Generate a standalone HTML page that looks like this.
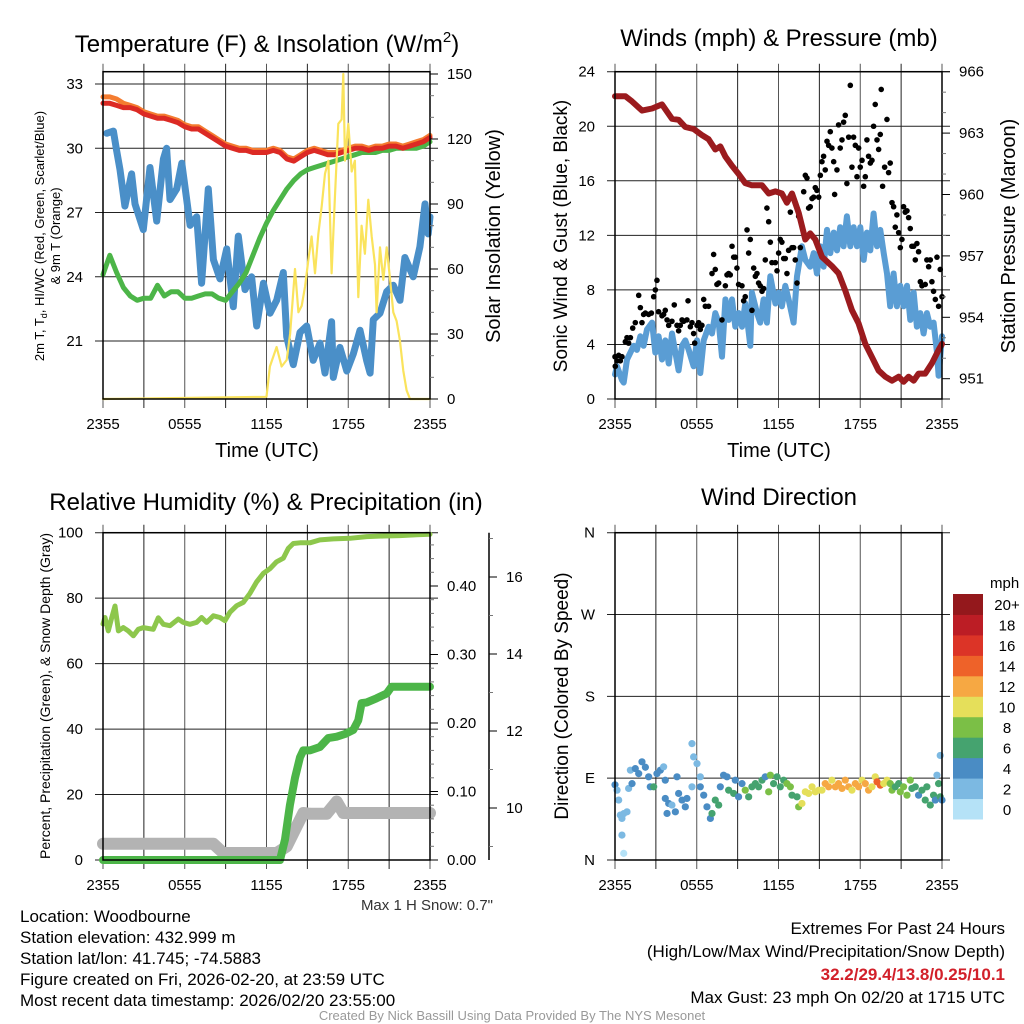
<!DOCTYPE html>
<html><head><meta charset="utf-8"><style>
html,body{margin:0;padding:0;background:#fff;}
svg{display:block;font-family:"Liberation Sans",Arial,sans-serif;}
</style></head><body>
<svg id="chart" width="1024" height="1024" viewBox="0 0 1024 1024" xmlns="http://www.w3.org/2000/svg">
<rect x="0" y="0" width="1024" height="1024" fill="#fff"/>
<g id="layer"></g>
<text x="267" y="52" font-size="24" text-anchor="middle">Temperature (F) &amp; Insolation (W/m<tspan font-size="15" dy="-10">2</tspan><tspan dy="10">)</tspan></text>
<text x="779" y="46" font-size="24" text-anchor="middle">Winds (mph) &amp; Pressure (mb)</text>
<text x="266" y="510" font-size="24" text-anchor="middle">Relative Humidity (%) &amp; Precipitation (in)</text>
<text x="779" y="505" font-size="24" text-anchor="middle">Wind Direction</text>
<text x="267" y="457" font-size="20" text-anchor="middle">Time (UTC)</text>
<text x="779" y="457" font-size="20" text-anchor="middle">Time (UTC)</text>
<text transform="translate(44,236) rotate(-90)" font-size="13" text-anchor="middle">2m T, T<tspan font-size="9" dy="3">d</tspan><tspan dy="-3">, HI/WC (Red, Green, Scarlet/Blue)</tspan></text>
<text transform="translate(60,236) rotate(-90)" font-size="13" text-anchor="middle">&amp; 9m T (Orange)</text>
<text transform="translate(500,236) rotate(-90)" font-size="20" text-anchor="middle">Solar Insolation (Yellow)</text>
<text transform="translate(567,236) rotate(-90)" font-size="19" text-anchor="middle">Sonic Wind &amp; Gust (Blue, Black)</text>
<text transform="translate(1015,236) rotate(-90)" font-size="20" text-anchor="middle">Station Pressure (Maroon)</text>
<text transform="translate(50,696) rotate(-90)" font-size="14" text-anchor="middle">Percent, Precipitation (Green), &amp; Snow Depth (Gray)</text>
<text transform="translate(568,696) rotate(-90)" font-size="19" text-anchor="middle">Direction (Colored By Speed)</text>
<text x="990" y="588" font-size="15">mph</text>
<text x="493" y="910" font-size="15" text-anchor="end" fill="#333">Max 1 H Snow: 0.7"</text>
<g font-size="17">
<text x="20" y="922">Location: Woodbourne</text>
<text x="20" y="943">Station elevation: 432.999 m</text>
<text x="20" y="964">Station lat/lon: 41.745; -74.5883</text>
<text x="20" y="985">Figure created on Fri, 2026-02-20, at 23:59 UTC</text>
<text x="20" y="1006">Most recent data timestamp: 2026/02/20 23:55:00</text>
</g>
<g font-size="17" text-anchor="end">
<text x="1005" y="934">Extremes For Past 24 Hours</text>
<text x="1005" y="957">(High/Low/Max Wind/Precipitation/Snow Depth)</text>
<text x="1005" y="980" fill="#d2202a" font-weight="bold">32.2/29.4/13.8/0.25/10.1</text>
<text x="1005" y="1003">Max Gust: 23 mph On 02/20 at 1715 UTC</text>
</g>
<text x="512" y="1020" font-size="13" text-anchor="middle" fill="#999">Created By Nick Bassill Using Data Provided By The NYS Mesonet</text>
</svg>
<script>
const xTickLabels = ["2355","0555","1155","1755","2355"];
const halfHours = Array.from({length:49},(_,i)=>i*0.5);
const tempRed = [32.1,32.1,32.0,31.9,31.9,31.8,31.6,31.5,31.4,31.4,31.3,31.2,31.0,30.9,30.9,30.7,30.5,30.3,30.1,30.0,29.9,29.9,29.8,29.8,29.8,29.9,29.8,29.5,29.4,29.6,29.8,29.9,29.8,29.7,29.7,29.8,29.9,30.0,30.0,29.9,30.0,30.0,30.1,30.1,30.0,30.1,30.2,30.3,30.5];
const temp9mOrange = [32.4,32.4,32.3,32.1,32.0,31.9,31.7,31.6,31.5,31.5,31.4,31.3,31.1,31.0,31.0,30.8,30.6,30.4,30.2,30.1,30.0,30.0,29.9,29.9,29.9,30.0,29.9,29.6,29.5,29.7,29.9,30.0,29.9,29.8,29.8,29.9,30.0,30.1,30.1,30.0,30.1,30.1,30.2,30.2,30.1,30.2,30.3,30.4,30.6];
const dewGreen = [24.1,25.0,24.2,23.5,23.1,22.9,23.0,23.0,23.6,23.1,23.3,23.3,23.0,23.0,23.1,23.2,23.2,23.0,22.9,23.3,23.7,24.2,25.0,25.8,26.5,27.1,27.6,28.1,28.5,28.8,29.0,29.1,29.2,29.3,29.4,29.5,29.6,29.7,29.8,29.8,29.8,29.9,29.9,30.0,30.0,30.0,30.0,30.1,30.3];
const chillHours = [0.27,0.76,1.00,1.25,1.61,2.10,2.35,2.96,3.45,3.94,4.43,4.67,4.92,5.41,5.78,6.14,6.39,6.88,7.24,7.73,8.10,8.59,9.08,9.56,9.93,10.42,10.91,11.28,11.77,12.26,12.75,13.23,13.48,13.97,14.46,14.95,15.43,15.93,16.29,16.78,16.90,17.39,17.89,18.37,18.86,19.35,19.60,19.84,20.33,20.82,21.31,21.80,22.16,22.77,23.26,23.63,23.87,24.0];
const chillBlue = [30.7,30.8,29.9,29.0,27.3,28.8,27.4,26.2,29.1,26.6,29.5,30.0,27.6,28.1,29.3,27.6,26.4,26.8,23.7,28.1,24.8,23.9,25.3,22.6,25.9,23.4,24.0,21.7,23.7,22.3,22.9,24.2,21.2,19.9,21.4,21.7,20.1,20.9,19.5,21.9,19.3,20.7,19.6,20.4,21.5,20.1,19.5,22.0,22.3,23.3,23.6,22.9,24.9,24.0,25.4,27.4,26.0,26.8];
const solarHours = [0,12.0,12.25,12.74,13.11,13.48,13.73,14.09,14.34,14.58,14.83,15.07,15.31,15.56,15.80,16.05,16.29,16.54,16.78,17.02,17.27,17.51,17.64,17.76,18.00,18.25,18.49,18.74,18.98,19.22,19.47,19.72,19.96,20.08,20.33,20.57,20.82,21.06,21.31,21.55,21.79,22.04,22.28,22.53,24.0];
const solarYellow = [0,1,15,24,15,18,30,60,40,43,52,64,75,58,76,89,104,110,58,93,127,129,150,110,127,105,110,47,80,67,92,75,62,40,70,55,70,56,40,36,27,13,4,0,0];

const windHours = [0,0.15,0.51,0.64,0.88,1.13,1.37,1.61,1.86,2.10,2.35,2.72,2.96,3.20,3.45,3.69,3.94,4.18,4.43,4.67,4.92,5.16,5.41,5.77,6.02,6.26,6.51,6.87,7.12,7.36,7.61,7.85,8.10,8.34,8.59,8.83,9.07,9.32,9.56,9.93,10.05,10.42,10.66,10.91,11.15,11.40,11.77,12.01,12.25,12.50,12.74,13.11,13.36,13.72,13.97,14.33,14.58,14.82,15.07,15.31,15.56,15.80,16.05,16.29,16.53,16.78,17.02,17.27,17.51,17.76,18.00,18.25,18.49,18.74,18.98,19.23,19.47,19.72,19.96,20.20,20.45,20.69,20.94,21.18,21.43,21.67,21.92,22.16,22.41,22.65,22.89,23.14,23.38,23.63,23.75,24.0];
const windBlue = [1.8,2.4,1.4,1.2,2.9,3.4,3.9,3.6,4.6,3.9,5.1,5.6,3.4,4.6,2.9,4.3,2.6,4.8,3.4,2.1,3.9,4.3,3.6,2.4,4.3,1.9,4.3,5.3,4.8,6.3,5.6,3.1,7.3,5.8,7.3,5.3,6.3,5.3,7.0,3.9,7.8,6.3,5.6,7.3,5.6,9.0,7.0,7.8,6.8,8.3,7.3,5.6,9.0,11.2,10.2,9.7,10.7,9.2,11.2,9.7,12.4,10.7,12.2,10.9,12.6,11.2,13.4,11.2,12.6,11.2,12.6,10.2,12.2,10.9,13.6,11.2,12.4,10.7,9.2,6.8,9.2,6.8,8.3,6.8,8.3,5.8,7.8,5.3,6.3,4.8,6.3,5.3,5.6,3.4,1.7,4.6];
const gustHours = [0.0,0.02,0.15,0.27,0.39,0.51,0.76,0.88,1.0,1.13,1.30,1.49,1.74,1.86,1.98,2.10,2.23,2.47,2.67,2.84,2.96,3.08,3.20,3.45,3.57,3.69,3.82,3.94,4.18,4.35,4.55,4.67,4.79,4.92,5.04,5.28,5.36,5.53,5.65,5.77,5.85,6.02,6.14,6.26,6.38,6.51,6.63,6.87,7.12,7.24,7.36,7.48,7.61,7.85,8.10,8.22,8.34,8.46,8.59,8.71,8.83,8.95,9.07,9.32,9.44,9.56,9.69,9.81,9.93,10.05,10.18,10.30,10.42,10.54,10.66,10.79,10.91,11.03,11.15,11.28,11.40,11.52,11.77,11.89,12.01,12.13,12.25,12.38,12.50,12.62,12.74,12.87,12.99,13.11,13.23,13.36,13.48,13.60,13.85,13.97,14.09,14.21,14.33,14.46,14.58,14.70,14.82,14.95,15.07,15.19,15.31,15.43,15.56,15.68,15.80,15.92,16.05,16.12,16.29,16.41,16.53,16.66,16.78,16.90,17.02,17.15,17.27,17.39,17.51,17.64,17.76,17.88,18.00,18.13,18.25,18.37,18.49,18.61,18.74,18.86,18.98,19.10,19.23,19.35,19.47,19.54,19.64,19.79,19.96,20.08,20.20,20.33,20.45,20.57,20.69,20.82,20.94,21.06,21.18,21.30,21.43,21.55,21.67,21.79,21.92,22.04,22.16,22.28,22.41,22.53,22.77,22.89,23.02,23.14,23.26,23.38,23.51,23.63,23.75,23.87,24.0];
const gustBlack = [3.1,2.4,2.8,3.2,2.8,3.1,4.2,4.5,4.1,4.5,5.2,5.6,7.6,6.7,5.6,6.2,6.3,6.2,6.3,7.5,8.0,8.7,6.4,6.1,6.2,6.5,5.8,5.4,5.7,6.9,5.4,5.0,5.4,5.8,5.7,5.8,7.2,5.3,5.6,4.8,4.1,5.4,5.6,5.1,5.4,7.3,6.8,6.8,9.2,10.6,9.5,8.4,8.5,5.8,8.3,9.1,9.2,9.1,11.2,10.4,10.4,9.6,8.4,8.3,7.2,7.5,12.4,10.7,11.7,6.5,9.6,9.0,9.2,8.5,8.3,7.9,8.1,10.2,14.0,13.0,11.5,10.0,10.0,9.4,10.7,11.7,11.5,10.3,10.3,9.2,10.9,13.7,11.1,11.1,10.2,8.5,13.4,11.1,15.2,16.4,16.2,14.0,14.1,14.7,14.8,15.5,15.3,14.8,16.4,17.4,17.8,16.8,18.9,18.6,19.6,18.4,17.4,15.0,16.8,20.1,18.4,19.0,20.3,20.8,15.8,19.2,23.0,17.0,19.2,18.6,16.3,18.4,17.0,17.5,15.6,16.3,19.0,17.8,17.3,17.5,20.0,21.6,19.0,18.3,19.4,22.7,15.6,17.0,20.5,16.6,17.3,14.4,14.1,12.6,13.5,12.2,11.1,11.7,14.1,13.7,13.8,13.3,12.5,11.2,11.2,10.2,11.4,10.8,8.6,8.3,8.4,10.2,9.7,10.2,8.6,7.9,7.3,10.4,6.8,9.5,7.5];
const pressHours = [0,0.76,1.25,1.98,2.72,3.45,4.18,4.67,5.16,5.77,6.38,6.87,7.36,7.73,8.10,8.59,9.07,9.56,10.05,10.79,11.28,11.77,12.25,12.62,12.99,13.48,13.97,14.33,14.70,15.19,15.92,16.41,16.90,17.39,17.88,18.37,18.86,19.35,19.84,20.33,20.82,21.18,21.55,21.92,22.28,22.77,23.26,23.75,24.0];
const pressMaroon = [964.8,964.8,964.55,964.1,964.2,964.4,963.7,963.65,963.3,963.2,962.9,962.7,962.2,962.35,961.85,961.4,961.0,960.55,960.45,960.45,960.05,960.15,960.05,959.6,960.05,959.1,957.8,958.1,957.8,956.95,956.5,956.15,955.3,954.35,953.7,952.7,952.05,951.4,951.1,950.9,951.1,950.85,951.1,950.9,951.25,951.25,951.75,952.4,952.7];

const rhHours = [0,0.15,0.39,0.64,0.88,1.13,1.49,1.86,2.23,2.59,2.96,3.69,4.06,4.43,4.92,5.53,5.89,6.38,6.87,7.24,7.61,8.10,8.59,8.95,9.32,9.81,10.30,10.79,11.28,11.77,12.25,12.74,13.23,13.60,13.97,14.46,15.19,15.92,16.90,18.13,19.35,20.57,21.79,23.02,24.0];
const rhValues = [72.1,74.1,70,74,77.6,70,71,70,68.5,70.5,71,70.5,74,72,71.6,73.6,72.6,72,72.6,74.1,72.6,74.6,74.1,73.1,75.7,77.7,78.7,81.5,85,87.6,89,91.1,92.2,95.2,96.7,96.9,96.9,97.8,98.1,98.3,98.8,99,99.1,99.4,99.5];
const precipHours = [0,12.99,13.36,13.72,14.09,14.46,14.70,15.19,15.92,16.53,17.15,17.76,18.37,18.74,18.98,19.35,20.08,20.82,21.18,21.79,23.02,24.0];
const precipValues = [0,0,0.03,0.08,0.12,0.15,0.16,0.16,0.165,0.178,0.18,0.184,0.19,0.204,0.229,0.23,0.236,0.243,0.253,0.253,0.253,0.253];
const snowHours = [0,8.10,8.83,12.74,13.48,14.21,14.70,15.19,16.41,17.15,17.64,24.0];
const snowDepth = [9.07,9.07,8.83,8.83,9.0,9.52,9.87,9.85,9.85,10.17,9.87,9.87];

const dirHours = [0,0.15,0.27,0.39,0.51,0.64,0.88,0.51,0.64,1.0,1.13,1.25,1.49,1.74,1.98,2.23,2.47,2.59,2.84,3.08,3.33,3.57,3.69,3.69,3.94,3.82,4.18,4.43,4.55,4.67,4.92,5.16,5.28,5.65,5.65,5.77,6.02,6.26,6.26,6.51,6.75,7.00,7.12,7.36,7.61,7.73,7.97,8.22,8.34,8.71,8.83,9.07,9.32,9.56,9.81,10.05,10.30,10.54,10.79,11.03,11.28,11.40,11.64,11.89,12.13,12.38,12.62,12.87,12.99,13.36,13.48,13.72,13.97,14.21,14.46,14.70,14.95,15.19,15.43,15.68,15.92,16.17,16.41,16.66,16.90,17.15,17.39,17.64,17.88,18.13,18.37,18.61,18.86,19.10,19.23,19.47,19.72,19.96,20.20,20.33,20.57,20.82,20.94,21.18,21.43,21.67,21.79,22.04,22.28,22.53,22.77,22.89,23.14,23.38,23.51,23.63,23.75,23.87,24.0,23.87];
const dirDegrees = [82.7,76.8,65.9,49.4,45.7,51,53,27.4,7.3,78.7,98.8,84,100.6,95,108,102,91.5,80.5,80.5,95,98.8,102.5,87.8,67.7,62.2,51.2,60.4,53,91.5,73.2,65.9,58.5,67.7,80.5,128,113.4,106,91.5,80.5,71.3,58.5,45.7,51.2,65.9,60.4,80.5,93.3,91.5,76.8,73.2,87.8,69.5,84,76.8,69.5,80.5,84,80.5,87.8,91.5,75,93.3,84,91.5,80.5,87.8,84,80.5,71.3,69.5,58.5,62.2,75,73.2,80.5,75,76.8,76.8,84,80.5,87.8,80.5,84,78.7,87.8,80.5,76.8,84,80.5,87.8,84,76.8,80.5,91.5,86,82.3,84,87.8,84,76.8,80.5,84,75,80.5,71.3,87.8,78.7,80.5,71.3,76.8,65.9,80.5,60.4,71.3,65.9,93.3,84,69.5,65.9,115];
const dirSpeeds = [3,2,1,2,2,2,2,2,0,2,2,4,4,4,4,4,4,4,6,4,4,2,4,4,4,4,2,4,4,4,4,4,4,2,2,2,2,2,4,4,4,4,6,6,6,4,4,4,6,6,4,4,4,8,6,6,6,6,6,4,8,8,6,6,6,6,8,8,6,6,8,10,10,10,10,10,10,10,12,12,10,12,12,12,12,12,10,12,12,10,12,12,10,10,14,14,10,10,8,8,6,6,8,8,8,8,6,6,4,6,6,6,6,6,4,2,6,6,4,2];
const colorbarLabels = ["0","2","4","6","8","10","12","14","16","18","20+"];
const colorbarColors = ["#b5e2f7","#7cb9e2","#4a8cc4","#45a36f","#7bbf46","#e5df5a","#f6a843","#ee6229","#dc3427","#bc1d25","#94181c"];

const NS="http://www.w3.org/2000/svg";
const layer=document.getElementById('layer');
function el(tag,attrs,parent){const e=document.createElementNS(NS,tag);for(const k in attrs)e.setAttribute(k,attrs[k]);(parent||layer).appendChild(e);return e;}
function linScale(d0,d1,r0,r1){return v=>r0+(v-d0)*(r1-r0)/(d1-d0);}
function pathD(xs,ys,xf,yf){return xs.map((h,i)=>(i?'L':'M')+xf(h).toFixed(1)+','+yf(ys[i]).toFixed(1)).join('');}

const panels=[
 {L:103,R:430,T:71.7,B:399,name:'temp'},
 {L:615,R:942,T:71.7,B:399,name:'winds'},
 {L:103,R:430,T:532.7,B:860,name:'humidity'},
 {L:615,R:942,T:532.7,B:860,name:'direction'}
];
panels.forEach(p=>{p.x=linScale(0,24,p.L,p.R);});
const P1=panels[0],P2=panels[1],P3=panels[2],P4=panels[3];
const y1L=linScale(33,21,84,341), y1R=linScale(0,150,399,74);
const y2L=linScale(0,24,399,71.7), y2R=linScale(951,966,378.7,71.7);
const y3L=linScale(0,100,860,532.7), y3R=linScale(0,0.4,860,586), y3S=linScale(10,16,808,577);
const y4=linScale(0,360,860,532.7);

function grid(p,yvals,yf,labels){
  const g=el('g',{});
  
  
  for(let h=0;h<=24;h+=3){
    const x=p.x(h);
    const ln=el('line',{x1:x,x2:x,y1:p.T-8,y2:p.B+9,stroke:(h%6===0?'#555':'#222'),'stroke-width':1},g);
    
    
  }
  yvals.forEach((v,i)=>{
    const y=yf(v);
    const ln=el('line',{x1:p.L-8,x2:p.R+8,y1:y,y2:y,stroke:'#222','stroke-width':1},g);
    
    
    const t=el('text',{x:p.L-20,y:y+5,'font-size':15,'text-anchor':'end'},g);
    t.textContent=labels[i];
    
    
  });
  const by=(p.B>500)?890:429;
  xTickLabels.forEach((lab,i)=>{
    const t=el('text',{x:p.x(i*6),y:by,'font-size':15,'text-anchor':'middle'},g);
    t.textContent=lab;
    
    
  });
}
function box(p){
  const r=el('rect',{x:p.L,y:p.T,width:p.R-p.L,height:p.B-p.T,fill:'none',stroke:'#000','stroke-width':1.5});
  
  
}
function rightAxis(x,vals,yf,labels,name,minor){
  const g=el('g',{});
  
  
  vals.forEach((v,i)=>{
    const y=yf(v);
    el('line',{x1:x,x2:x+8,y1:y,y2:y,stroke:'#000','stroke-width':1},g);
    const t=el('text',{x:x+17,y:y+5,'font-size':15},g);
    t.textContent=labels[i];
    
    
  });
  (minor||[]).forEach(v=>{const y=yf(v);el('line',{x1:x,x2:x+4,y1:y,y2:y,stroke:'#777','stroke-width':1},g);});
}
function line(xs,ys,xf,yf,color,w,name){
  const p=el('path',{d:pathD(xs,ys,xf,yf),fill:'none',stroke:color,'stroke-width':w,'stroke-linejoin':'round','stroke-linecap':'round'});
  
  
}

grid(P1,[33,30,27,24,21],y1L,["33","30","27","24","21"]);
line(chillHours,chillBlue,P1.x,y1L,'#4a8fc8',7,'wind-chill-line');
line(halfHours,dewGreen,P1.x,y1L,'#4cb548',5,'dewpoint-line');
line(halfHours,temp9mOrange,P1.x,y1L,'#f47c30',5,'temp-9m-line');
line(halfHours,tempRed,P1.x,y1L,'#dc2a24',5,'temp-2m-line');
line(solarHours,solarYellow,P1.x,y1R,'#fae35c',2.2,'solar-insolation-line');
box(P1);
rightAxis(430,[0,30,60,90,120,150],y1R,["0","30","60","90","120","150"],'insolation-axis',[10,20,40,50,70,80,100,110,130,140]);

grid(P2,[0,4,8,12,16,20,24],y2L,["0","4","8","12","16","20","24"]);
line(windHours,windBlue,P2.x,y2L,'#5a9dd4',6,'sonic-wind-line');
gustHours.forEach((h,i)=>{
  const c=el('circle',{cx:P2.x(h),cy:y2L(gustBlack[i]),r:2.8,fill:'#000'});
  
  
});
line(pressHours,pressMaroon,P2.x,y2R,'#9b1b1e',6,'station-pressure-line');
box(P2);
rightAxis(942,[951,954,957,960,963,966],y2R,["951","954","957","960","963","966"],'pressure-axis',[952,953,955,956,958,959,961,962,964,965]);

grid(P3,[0,20,40,60,80,100],y3L,["0","20","40","60","80","100"]);
line(snowHours,snowDepth,P3.x,y3S,'#b3b3b3',12,'snow-depth-line');
line(rhHours,rhValues,P3.x,y3L,'#8dc74c',5,'relative-humidity-line');
line(precipHours,precipValues,P3.x,y3R,'#4cb548',8,'precipitation-line');
box(P3);
rightAxis(430,[0,0.1,0.2,0.3,0.4],y3R,["0.00","0.10","0.20","0.30","0.40"],'precip-axis',[0.02,0.04,0.06,0.08,0.12,0.14,0.16,0.18,0.22,0.24,0.26,0.28,0.32,0.34,0.36,0.38,0.42,0.44,0.46]);
const sAx=el('line',{x1:489,x2:489,y1:532.7,y2:860,stroke:'#000','stroke-width':1.5});


rightAxis(489,[10,12,14,16],y3S,["10","12","14","16"],'snow-depth-axis',[9,11,13,15,17]);

grid(P4,[0,90,180,270,360],y4,["N","E","S","W","N"]);
function speedColor(s){return colorbarColors[Math.min(10,Math.max(0,Math.round(s/2)))];}
dirHours.forEach((h,i)=>{
  const c=el('circle',{cx:P4.x(h),cy:y4(dirDegrees[i]),r:3.6,fill:speedColor(dirSpeeds[i])});
  
  
});
box(P4);
const cb=el('g',{});


const cbTop=594,cbBot=819,binH=(cbBot-cbTop)/11;
colorbarColors.forEach((c,i)=>{
  const y=cbBot-(i+1)*binH;
  const r=el('rect',{x:953,y:y,width:30,height:binH+0.5,fill:c},cb);
  
  
  const t=el('text',{x:1007,y:y+binH/2+6,'font-size':15,'text-anchor':'middle'},cb);
  t.textContent=colorbarLabels[i];
  
  
});
</script>
</body></html>
